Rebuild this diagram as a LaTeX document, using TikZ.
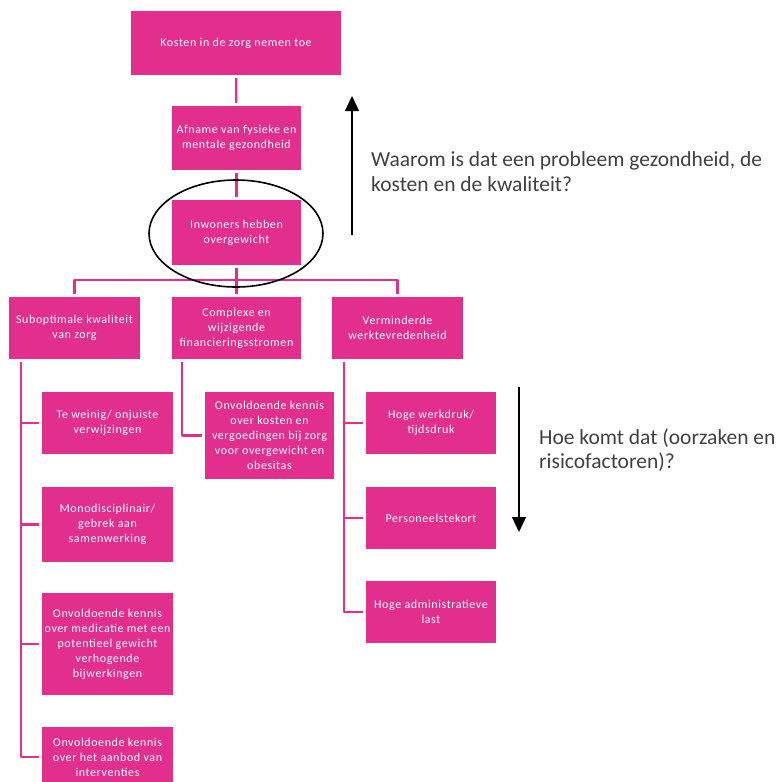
\documentclass[tikz,border=0pt]{standalone}
\usepackage{fontspec}
\setmainfont{Carlito}
\newfontfamily\boxfont[LetterSpace=5]{Carlito}
\usepackage{tikz}
\usetikzlibrary{arrows.meta}
\usetikzlibrary{shapes, positioning}
\definecolor{roze}{RGB}{226,46,140}
\definecolor{tekst}{RGB}{64,64,64}

\begin{document}
\begin{tikzpicture}[x=1pt,y=-1pt,>={Triangle[length=15pt,width=14pt]},line join=bevel,
  box/.style={fill=roze,draw=none,text=white,align=center,inner sep=0pt,
    font=\boxfont\fontsize{12}{15}\selectfont},
  link/.style={draw=roze,line width=2.3pt,shorten <=3pt,shorten >=3pt},
  vraag/.style={text=tekst,align=left,anchor=west,inner sep=0pt,
    font=\fontsize{21.5}{24.5}\selectfont}]
\useasboundingbox (0,0) rectangle (776,782);
%%
\node (node_0) at (236,43) [box,minimum width=210pt,minimum height=64pt] {Kosten in de zorg nemen toe};
  \node (node_1) at (236.5,138) [box,minimum width=129pt,minimum height=64pt] {Afname van fysieke en\\mentale gezondheid};
  \node (node_2) at (236.5,232.5) [box,minimum width=129pt,minimum height=65pt] {Inwoners hebben\\overgewicht};
  \node (node_3) at (74.5,328) [box,minimum width=131pt,minimum height=62pt] {Suboptimale kwaliteit\\van zorg};
  \node (node_4) at (236.5,328) [box,minimum width=129pt,minimum height=62pt] {Complexe en\\wijzigende\\financieringsstromen};
  \node (node_5) at (397.5,328) [box,minimum width=131pt,minimum height=62pt] {Verminderde\\werktevredenheid};
  \node (node_6) at (107.5,423) [box,minimum width=131pt,minimum height=62pt] {Te weinig/ onjuiste\\verwijzingen};
  \node (node_7) at (107.5,524.5) [box,minimum width=131pt,minimum height=75pt] {Monodisciplinair/\\gebrek aan\\samenwerking};
  \node (node_8) at (107.5,644) [box,minimum width=131pt,minimum height=102pt] {Onvoldoende kennis\\over medicatie met een\\potentieel gewicht\\verhogende\\bijwerkingen};
  \node (node_9) at (107.5,757) [box,minimum width=131pt,minimum height=60pt] {Onvoldoende kennis\\over het aanbod van\\interventies};
  \node (node_10) at (269.5,435.5) [box,minimum width=129pt,minimum height=87pt] {Onvoldoende kennis\\over kosten en\\vergoedingen bij zorg\\voor overgewicht en\\obesitas};
  \node (node_11) at (431,423) [box,minimum width=130pt,minimum height=62pt] {Hoge werkdruk/\\tijdsdruk};
  \node (node_12) at (431,518) [box,minimum width=130pt,minimum height=62pt] {Personeelstekort};
  \node (node_13) at (431,612) [box,minimum width=130pt,minimum height=62pt] {Hoge administratieve\\last};
  \node (vraag_0) at (371,171.5) [vraag] {Waarom is dat een probleem gezondheid, de\\kosten en de kwaliteit?};
  \node (vraag_1) at (539,450) [vraag] {Hoe komt dat (oorzaken en\\risicofactoren)?};
  \coordinate (bus) at (236.5,280);
  \coordinate (pijl_0) at (352,235);
  \coordinate (pijl_1) at (352,96);
  \coordinate (pijl_2) at (519,387);
  \coordinate (pijl_3) at (519,532);
  \draw [link] (node_0) -- (node_1);
  \draw [link] (node_1) -- (node_2);
  \draw [link,shorten >=0pt] (node_2) -- (bus);
  \draw [link,shorten <=0pt] (bus) -| (node_3);
  \draw [link,shorten <=0pt] (bus) -- (node_4);
  \draw [link,shorten <=0pt] (bus) -| (node_5);
  \draw [link] ([xshift=12pt]node_3.south west) |- (node_6);
  \draw [link] ([xshift=12pt]node_3.south west) |- (node_7);
  \draw [link] ([xshift=12pt]node_3.south west) |- (node_8);
  \draw [link] ([xshift=12pt]node_3.south west) |- (node_9);
  \draw [link] ([xshift=10pt]node_4.south west) |- (node_10);
  \draw [link] ([xshift=12pt]node_5.south west) |- (node_11);
  \draw [link] ([xshift=12pt]node_5.south west) |- (node_12);
  \draw [link] ([xshift=12pt]node_5.south west) |- (node_13);
  \draw [black,line width=1.6pt] (236,233.5) ellipse [x radius=87pt,y radius=53.5pt];
  \draw [black,line width=1.3pt,->] (pijl_0) -- (pijl_1);
  \draw [black,line width=1.3pt,->] (pijl_2) -- (pijl_3);
%
\end{tikzpicture}
\end{document}
